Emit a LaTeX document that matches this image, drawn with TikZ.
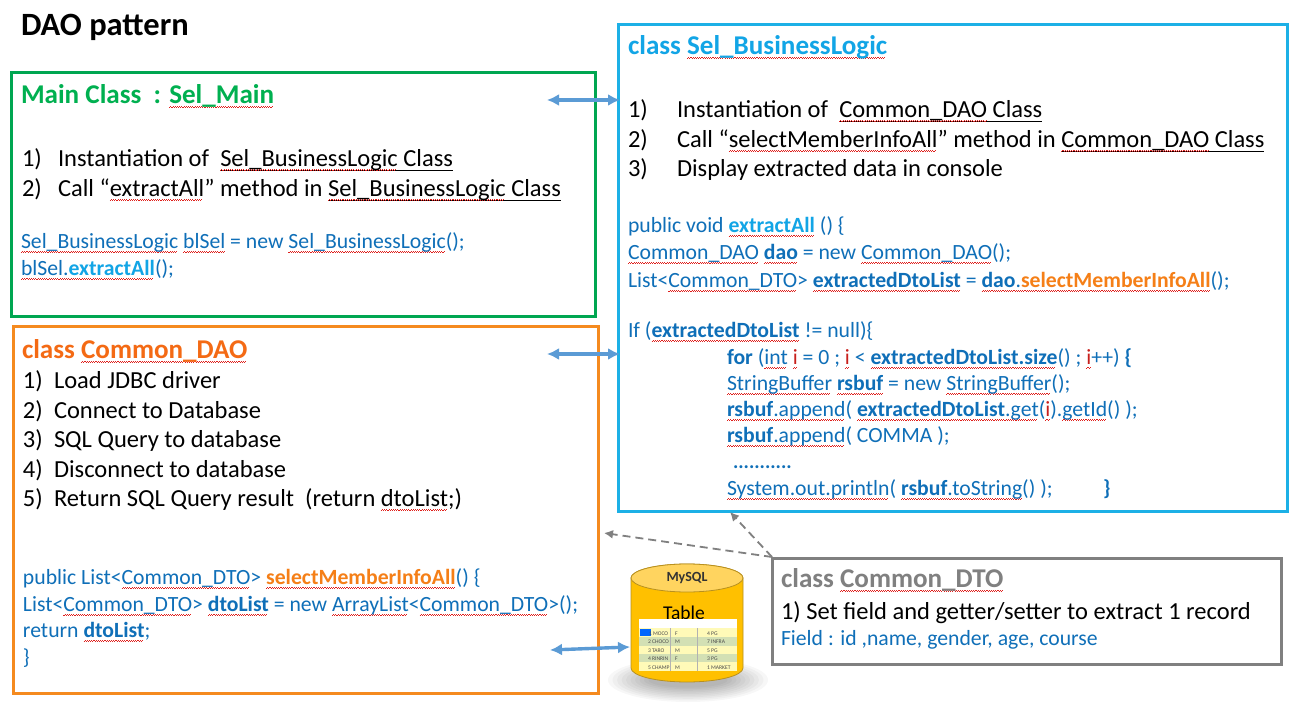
\documentclass[tikz,border=0pt]{standalone}
\usepackage{fontspec}
\setmainfont{Carlito}
\usetikzlibrary{arrows.meta}
\definecolor{cgreen}{HTML}{00A651}
\definecolor{tgreen}{HTML}{00B050}
\definecolor{cblue}{HTML}{1CB0E6}
\definecolor{corange}{HTML}{F58A1F}
\definecolor{torange}{HTML}{F46A14}
\definecolor{cgrey}{HTML}{808080}
\definecolor{codeblue}{HTML}{0F6FB8}
\definecolor{lightb}{HTML}{12A5E6}
\definecolor{arrowb}{HTML}{5B9BD5}
\definecolor{sqred}{HTML}{E0201C}
\definecolor{selorange}{HTML}{F57F17}
\definecolor{iredc}{HTML}{C8201C}
\definecolor{cylbody}{HTML}{FFC000}
\definecolor{cyltop}{HTML}{FFD45F}
\definecolor{cylline}{HTML}{B8901F}
\definecolor{rowa}{HTML}{FFFAB8}
\definecolor{rowb}{HTML}{D3E0B4}
\newcommand{\sq}[1]{{\setbox0\hbox{#1}\rlap{\hbox to \wd0{\leaders\hbox{\textcolor{sqred}{\rule[-3.6pt]{1.1pt}{.55pt}\rule[-2.9pt]{1.1pt}{.55pt}}}\hfill}}\box0}}
\newcommand{\ulx}[1]{{\setbox0\hbox{#1}\rlap{\rule[-4.4pt]{\wd0}{.9pt}}\box0}}
\newcommand{\xa}[1]{\textcolor{lightb}{\textbf{#1}}}
\newcommand{\xo}[1]{\textcolor{selorange}{\textbf{#1}}}
\newcommand{\vari}{\textcolor{iredc}{i}}
\tikzset{
  box/.style={draw,line width=3pt,fill=none,inner sep=0,outer sep=0,anchor=north west},
  line/.style={anchor=base west,inner sep=0,outer sep=0,yshift=-.7pt,font=\fontsize{24.5}{28}\selectfont,text=black},
  code/.style={anchor=base west,inner sep=0,outer sep=0,yshift=-.7pt,font=\fontsize{21.7}{24}\selectfont,text=codeblue},
  head/.style={anchor=base west,inner sep=0,outer sep=0,yshift=-.7pt,font=\fontsize{27.1}{30}\selectfont\bfseries},
  link/.style={line width=3.4pt,draw=arrowb,{Latex[length=12pt,width=12pt]}-{Latex[length=12pt,width=12pt]}},
  dep/.style={line width=1.8pt,draw=cgrey,dash pattern=on 8pt off 5pt,-{Latex[length=9pt,width=9pt]}},
  tb/.style={anchor=base west,inner sep=0,outer sep=0,font=\fontsize{5.6}{7}\selectfont,text=black!70}
}
\begin{document}
\begin{tikzpicture}[x=1pt,y=-1pt]
\useasboundingbox (0,0) rectangle (1296,711);
\fill[white] (0,0) rectangle (1296,711);
% boxes
\node[box,draw=cgreen,minimum width=584pt,minimum height=244pt] (mainbox) at (11,73) {};
\node[box,draw=corange,minimum width=585pt,minimum height=366pt] (daobox) at (13,327) {};
\node[box,draw=cblue,minimum width=669pt,minimum height=486pt] (logicbox) at (618,25) {};
\node[box,draw=cgrey,minimum width=509pt,minimum height=106pt] (dtobox) at (772,558) {};
% title
\node[head,font=\fontsize{32.5}{36}\selectfont\bfseries] (title) at (21,35) {DAO pattern};
% main
\node[head,text=tgreen] (m0) at (21,103) {Main Class\ \ : \sq{Sel\_Main}};
\node[line] (m1n) at (22,166) {1)};
\node[line] (m1) at (58,166) {Instantiation of\ \ \ulx{\sq{Sel\_BusinessLogic} Class}};
\node[line] (m2n) at (22,196) {2)};
\node[line] (m2) at (58,196) {Call “\sq{extractAll}” method in \ulx{\sq{Sel\_BusinessLogic} Class}};
\node[code] (m3) at (21,248) {\sq{Sel\_BusinessLogic} \sq{blSel} = new \sq{Sel\_BusinessLogic}();};
\node[code] (m4) at (21,275) {\sq{blSel.\xa{extractAll}}();};
% DAO
\node[head,text=torange] (d0) at (22,358) {class \sq{Common\_DAO}};
\node[line] (d1n) at (23,388) {1)};\node[line] (d1) at (54,388) {Load JDBC driver};
\node[line] (d2n) at (23,418) {2)};\node[line] (d2) at (54,418) {Connect to Database};
\node[line] (d3n) at (23,447) {3)};\node[line] (d3) at (54,447) {SQL Query to database};
\node[line] (d4n) at (23,477) {4)};\node[line] (d4) at (54,477) {Disconnect to database};
\node[line] (d5n) at (23,506) {5)};\node[line] (d5) at (54,506) {Return SQL Query result\ \ (return \sq{dtoList};)};
\node[code] (d6) at (23,584) {public List<\sq{Common\_DTO}> \sq{\xo{selectMemberInfoAll}}() \{};
\node[code] (d7) at (23,611) {List<\sq{Common\_DTO}> \sq{\textbf{dtoList}} = new \sq{ArrayList}<\sq{Common\_DTO}>();};
\node[code] (d8) at (23,637) {return \sq{\textbf{dtoList}};};
\node[code] (d9) at (23,664) {\}};
% logic
\node[head,text=lightb] (l0) at (628,54) {class \sq{Sel\_BusinessLogic}};
\node[line] (l1n) at (628,117) {1)};\node[line] (l1) at (677,117) {Instantiation of\ \ \ulx{\sq{Common\_DAO} Class}};
\node[line] (l2n) at (628,147) {2)};\node[line] (l2) at (677,147) {Call “\sq{selectMemberInfoAll}” method in \ulx{\sq{Common\_DAO} Class}};
\node[line] (l3n) at (628,176) {3)};\node[line] (l3) at (677,176) {Display extracted data in console};
\node[code] (c1) at (628,232) {public void \sq{\xa{extractAll}} () \{};
\node[code] (c2) at (628,259) {\sq{Common\_DAO} \sq{\textbf{dao}} = new \sq{Common\_DAO}();};
\node[code] (c3) at (628,287) {List<\sq{Common\_DTO}> \sq{\textbf{extractedDtoList}} = \sq{\textbf{dao}.\xo{selectMemberInfoAll}}();};
\node[code] (c4) at (628,337) {If (\sq{\textbf{extractedDtoList}} != null)\{};
\node[code] (c5) at (727,364) {\textbf{for} (\sq{int} \sq{\vari} = 0 ; \sq{\vari} < \sq{\textbf{extractedDtoList.size}}() ; \sq{\vari}++) \textbf{\{}};
\node[code] (c6) at (727,390) {\sq{StringBuffer} \sq{\textbf{rsbuf}} = new \sq{StringBuffer}();};
\node[code] (c7) at (727,416) {\sq{\textbf{rsbuf}.append}( \sq{\textbf{extractedDtoList}.get}(\sq{\vari}).\sq{getId}() );};
\node[code] (c8) at (727,442) {\sq{\textbf{rsbuf}.append}( COMMA );};
\node[code,font=\fontsize{20}{24}\selectfont] (c9) at (733,468) {\textbf{...........}};
\node[code] (c10) at (727,495) {\sq{System.out.println}( \sq{\textbf{rsbuf}.toString}() );};
\node[code] (c11) at (1103,495) {\textbf{\}}};
% DTO
\node[head,text=cgrey] (g0) at (781,587) {class \sq{Common\_DTO}};
\node[line] (g1) at (781,619) {1) Set field and getter/setter to extract 1 record};
\node[code] (g2) at (781,645) {Field : id ,name, gender, age, course};
% database
\foreach \k in {0,...,9} {
  \fill[black,opacity=.03] (688,680) ellipse [x radius={80-\k*4.5},y radius={22-\k*1.6}];
}
\draw[draw=cylline,line width=.8pt,fill=cylbody] (631,578) -- (631,668) arc[start angle=180,end angle=360,x radius=56pt,y radius=14pt] -- (743,578) arc[start angle=0,end angle=180,x radius=56pt,y radius=14pt] -- cycle;
\draw[draw=cylline,line width=.8pt,fill=cyltop] (687,578) ellipse [x radius=56pt,y radius=14pt];
\node[inner sep=0,font=\fontsize{14}{16}\selectfont\bfseries,text=black!80] (mysql) at (687,578) {MySQL};
\node[inner sep=0,font=\fontsize{19.5}{22}\selectfont,text=black] (tablelabel) at (684,613) {Table};
% table picture
\fill[white] (639,619) rectangle (737,628);
\fill[rowa] (639,628) rectangle (737,671);
\fill[rowb] (639,637) rectangle (737,646);
\fill[rowb] (639,654) rectangle (737,662);
\fill[blue!60!cyan] (640,629) rectangle (651,636);
\draw[black!30,line width=.3pt] (670,628) -- (670,671) (697,628) -- (697,671);
\node[tb] (r1n) at (649,635) {1};\node[tb] (r1a) at (653,635) {MOCO}; \node[tb] (r1b) at (675,635) {F}; \node[tb] (r1c) at (707,635) {4 PG};
\node[tb] (r2a) at (648,643) {2 CHOCO}; \node[tb] (r2b) at (675,643) {M}; \node[tb] (r2c) at (707,643) {7 INFRA};
\node[tb] (r3a) at (648,652) {3 TARO}; \node[tb] (r3b) at (675,652) {M}; \node[tb] (r3c) at (707,652) {5 PG};
\node[tb] (r4a) at (648,660) {4 RINRIN}; \node[tb] (r4b) at (675,660) {F}; \node[tb] (r4c) at (707,660) {3 PG};
\node[tb] (r5a) at (648,669) {5 CHAMP}; \node[tb] (r5b) at (675,669) {M}; \node[tb] (r5c) at (707,669) {1 MARKET};
\coordinate (dbin) at (630,647);
\coordinate (dbout) at (550,650);
\coordinate (a1) at (547,100);
\coordinate (a1r) at (620,100);
\coordinate (a2) at (547,354);
\coordinate (a2r) at (620,354);
\coordinate (corner) at (772,557);
\coordinate (dl) at (604,533);
\coordinate (dr) at (730,512);
\draw[link] (a1) -- (a1r);
\draw[link] (a2) -- (a2r);
\draw[link] (dbout) -- (dbin);
\draw[dep] (corner) -- (dl);
\draw[dep] (corner) -- (dr);
\end{tikzpicture}
\end{document}
